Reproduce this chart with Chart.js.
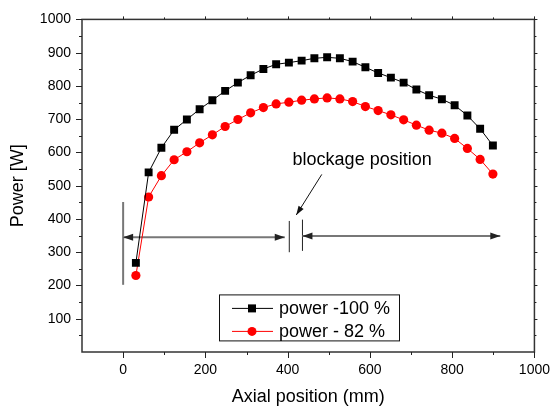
<!DOCTYPE html>
<html>
<head>
<meta charset="utf-8">
<title>Power vs axial position</title>
<script src="https://cdn.jsdelivr.net/npm/chart.js@4.4.0/dist/chart.umd.min.js"></script>
<style>
    html, body { margin: 0; padding: 0; background: #fff; }
    #wrap { width: 560px; height: 409px; }
</style>
</head>
<body>
<div id="wrap"><canvas id="powerChart" width="560" height="409"></canvas></div>
<script>
    // Data
    const axialPos = [31, 62, 93, 124, 155, 186, 217, 248, 279, 310, 341, 372, 403, 434, 465,
                      496, 527, 558, 589, 620, 651, 682, 713, 744, 775, 806, 837, 868, 899];
    const power100 = [268, 540, 614, 668, 699, 730, 757, 785, 810, 832, 851, 865, 870, 876, 883,
                      886, 883, 873, 856, 839, 825, 810, 789, 772, 760, 742, 711, 671, 621];
    const power82 = [230, 466, 530, 578, 602, 629, 653, 678, 699, 719, 735, 746, 751, 757, 761,
                     764, 761, 753, 738, 726, 713, 698, 682, 667, 658, 642, 612, 579, 535];
    const seriesLabels = ['power -100 %', 'power - 82 %'];

    const xTickLabels = [0, 200, 400, 600, 800, 1000];
    const xMinorTicks = [100, 300, 500, 700, 900];
    const yTickLabels = [100, 200, 300, 400, 500, 600, 700, 800, 900, 1000];
    const yMinorTicks = [50, 150, 250, 350, 450, 550, 650, 750, 850, 950];

    // Annotation (data units)
    const blockageText = 'blockage position';
    const blockageTextAt = [412, 578];
    const spanArrows = [[0, 393, 345], [436, 917, 349]];        // xFrom, xTo, y
    const markerLines = [[0, 202, 451], [404, 300, 394], [436, 304, 398]]; // x, yFrom, yTo
    const pointerArrow = [483, 534, 421, 412];                   // x1, y1, x2, y2 (tip)

    const FONT = "'Liberation Sans', Arial, Helvetica, sans-serif";

    function arrowHead(ctx, x, y, angle, len, half) {
        const c = Math.cos(angle), s = Math.sin(angle);
        ctx.beginPath();
        ctx.moveTo(x, y);
        ctx.lineTo(x - len * c + half * s, y - len * s - half * c);
        ctx.lineTo(x - len * c - half * s, y - len * s + half * c);
        ctx.closePath();
        ctx.fill();
    }

    const annotationPlugin = {
        id: 'blockage',
        beforeDatasetsDraw(chart) {
            const { ctx, scales: { x, y } } = chart;
            ctx.save();

            // vertical markers
            markerLines.forEach((m, i) => {
                ctx.strokeStyle = i === 0 ? '#777' : '#222';
                ctx.lineWidth = i === 0 ? 2 : 1;
                ctx.beginPath();
                ctx.moveTo(x.getPixelForValue(m[0]), y.getPixelForValue(m[1]));
                ctx.lineTo(x.getPixelForValue(m[0]), y.getPixelForValue(m[2]));
                ctx.stroke();
            });

            // double arrows
            spanArrows.forEach(a => {
                const x1 = x.getPixelForValue(a[0]);
                const x2 = x.getPixelForValue(a[1]);
                const py = y.getPixelForValue(a[2]);
                ctx.strokeStyle = '#777';
                ctx.lineWidth = 2;
                ctx.beginPath();
                ctx.moveTo(x1, py);
                ctx.lineTo(x2, py);
                ctx.stroke();
                ctx.fillStyle = '#222';
                arrowHead(ctx, x1, py, Math.PI, 10, 3.5);
                arrowHead(ctx, x2, py, 0, 10, 3.5);
            });

            // pointer
            const px1 = x.getPixelForValue(pointerArrow[0]), py1 = y.getPixelForValue(pointerArrow[1]);
            const px2 = x.getPixelForValue(pointerArrow[2]), py2 = y.getPixelForValue(pointerArrow[3]);
            ctx.strokeStyle = '#111';
            ctx.lineWidth = 1;
            ctx.beginPath();
            ctx.moveTo(px1, py1);
            ctx.lineTo(px2, py2);
            ctx.stroke();
            ctx.fillStyle = '#111';
            arrowHead(ctx, px2, py2, Math.atan2(py2 - py1, px2 - px1), 9, 3);

            ctx.fillStyle = '#000';
            ctx.font = '18px ' + FONT;
            ctx.textAlign = 'left';
            ctx.textBaseline = 'middle';
            ctx.fillText(blockageText, x.getPixelForValue(blockageTextAt[0]), y.getPixelForValue(blockageTextAt[1]));
            ctx.restore();
        }
    };

    const framePlugin = {
        id: 'frame',
        afterDraw(chart) {
            const { ctx, chartArea: a, scales: { x, y } } = chart;
            ctx.save();
            ctx.strokeStyle = '#333';
            ctx.lineWidth = 1.5;
            ctx.strokeRect(a.left, a.top, a.right - a.left, a.bottom - a.top);

            ctx.lineWidth = 1;
            ctx.strokeStyle = '#222';
            ctx.beginPath();
            const xt = (v, len, lenTop) => {
                const px = Math.round(x.getPixelForValue(v)) + 0.5;
                ctx.moveTo(px, a.bottom); ctx.lineTo(px, a.bottom + len);
                ctx.moveTo(px, a.top); ctx.lineTo(px, a.top - lenTop);
            };
            const yt = (v, len, lenRight) => {
                const py = Math.round(y.getPixelForValue(v)) + 0.5;
                ctx.moveTo(a.left, py); ctx.lineTo(a.left - len, py);
                ctx.moveTo(a.right, py); ctx.lineTo(a.right + lenRight, py);
            };
            xTickLabels.forEach(v => xt(v, 6, 3));
            xMinorTicks.forEach(v => xt(v, 3, 2));
            yTickLabels.forEach(v => yt(v, 6, 3));
            yMinorTicks.forEach(v => yt(v, 3, 2));
            ctx.stroke();

            // legend box
            const lx = a.left + 137, ly = a.top + 275, lw = 180, lh = 46;
            ctx.fillStyle = '#fff';
            ctx.fillRect(lx, ly, lw, lh);
            ctx.strokeStyle = '#111';
            ctx.lineWidth = 1;
            ctx.strokeRect(lx + 0.5, ly + 0.5, lw, lh);
            ctx.font = '18px ' + FONT;
            ctx.textAlign = 'left';
            ctx.textBaseline = 'middle';
            chart.data.datasets.forEach((ds, i) => {
                const rowY = ly + 14 + i * 23;
                ctx.strokeStyle = ds.borderColor;
                ctx.beginPath();
                ctx.moveTo(lx + 13, rowY);
                ctx.lineTo(lx + 54, rowY);
                ctx.stroke();
                ctx.fillStyle = ds.backgroundColor;
                if (ds.pointStyle === 'rect') {
                    ctx.fillRect(lx + 29, rowY - 4, 8, 8);
                } else {
                    ctx.beginPath();
                    ctx.arc(lx + 33, rowY, 4.5, 0, Math.PI * 2);
                    ctx.fill();
                }
                ctx.fillStyle = '#000';
                ctx.fillText(ds.label, lx + 60, rowY + 1);
            });
            ctx.restore();
        }
    };

    const ctx = document.getElementById('powerChart').getContext('2d');
    const powerChart = new Chart(ctx, {
        type: 'scatter',
        data: {
            datasets: [{
                label: seriesLabels[0],
                data: axialPos.map((v, i) => ({ x: v, y: power100[i] })),
                showLine: true,
                borderColor: '#000',
                backgroundColor: '#000',
                borderWidth: 1,
                pointStyle: 'rect',
                pointRadius: 5.6,
                pointBorderWidth: 0
            }, {
                label: seriesLabels[1],
                data: axialPos.map((v, i) => ({ x: v, y: power82[i] })),
                showLine: true,
                borderColor: '#ff0000',
                backgroundColor: '#ff0000',
                borderWidth: 1,
                pointStyle: 'circle',
                pointRadius: 4.6,
                pointBorderWidth: 0
            }]
        },
        options: {
            responsive: false,
            animation: false,
            layout: { padding: { top: 12, right: 17, left: 0, bottom: 0 } },
            plugins: {
                legend: { display: false },
                tooltip: { enabled: false }
            },
            scales: {
                x: {
                    type: 'linear',
                    min: -100,
                    max: 1000,
                    afterBuildTicks: s => { s.ticks = xTickLabels.map(v => ({ value: v })); },
                    afterFit: s => { s.height = 57; },
                    grid: { display: false, drawTicks: false },
                    border: { display: false },
                    ticks: {
                        color: '#000', font: { family: FONT, size: 14 }, padding: 10, maxRotation: 0,
                        callback: v => String(v)
                    },
                    title: {
                        display: true,
                        text: 'Axial position (mm)',
                        color: '#000',
                        font: { family: FONT, size: 18 },
                        padding: { top: 0, bottom: 1 }
                    }
                },
                y: {
                    type: 'linear',
                    min: 0,
                    max: 1000,
                    afterBuildTicks: s => { s.ticks = yTickLabels.map(v => ({ value: v })); },
                    afterFit: s => { s.width = 82; },
                    grid: { display: false, drawTicks: false },
                    border: { display: false },
                    ticks: {
                        color: '#000', font: { family: FONT, size: 14 }, padding: 11,
                        callback: v => String(v)
                    },
                    title: {
                        display: true,
                        text: 'Power [W]',
                        color: '#000',
                        font: { family: FONT, size: 18 },
                        padding: { top: 7, bottom: 0 }
                    }
                }
            }
        },
        plugins: [annotationPlugin, framePlugin]
    });
</script>
</body>
</html>
